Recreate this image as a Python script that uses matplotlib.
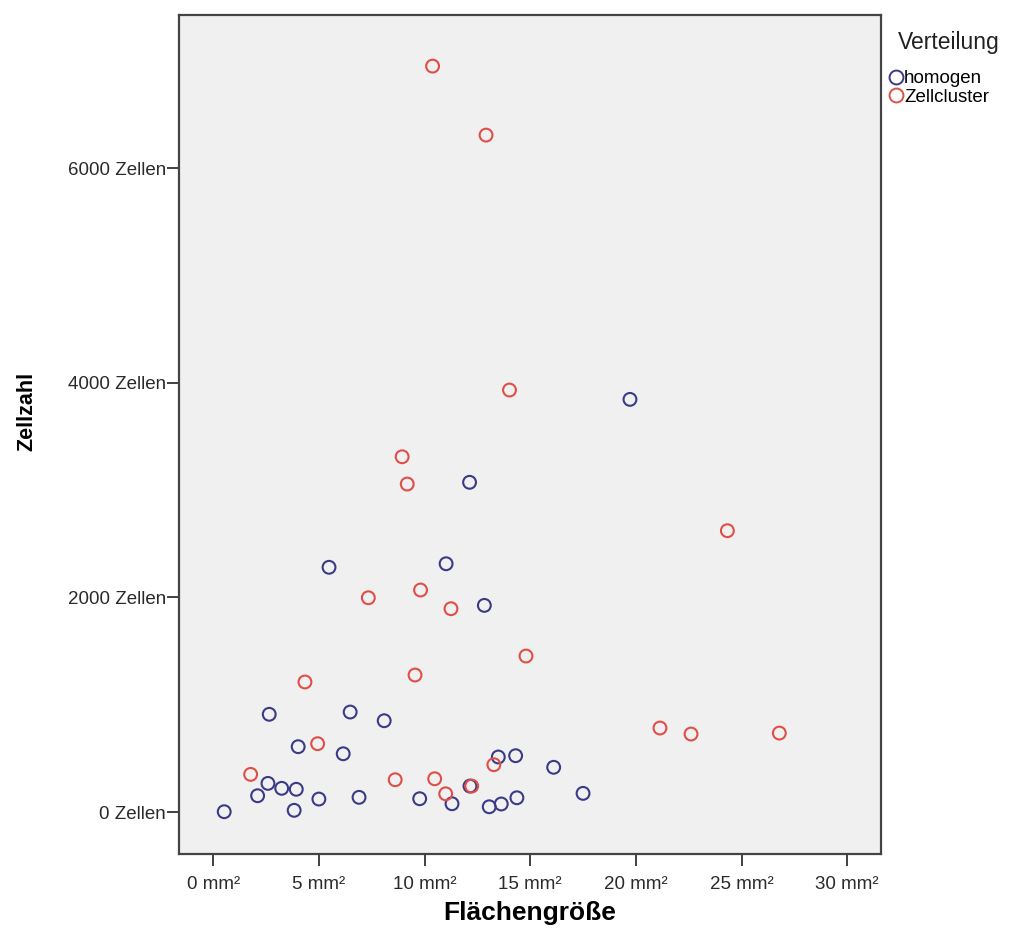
"""
plot.py — Scatter plot of cell count vs. area, split by distribution type.

Output: out.png
"""

import matplotlib
matplotlib.use("Agg")
import matplotlib.pyplot as plt
from matplotlib.lines import Line2D


# ------------------------------------------------------------------
# Data
# ------------------------------------------------------------------

GROUPS = ["homogen", "Zellcluster"]

homogen_area = [0.52, 2.10, 2.59, 3.24, 3.93, 3.83, 4.02, 2.65, 5.00, 6.15,
                6.48, 6.90, 8.09, 9.77, 11.30, 12.15, 13.06, 13.63, 14.37, 13.49,
                14.31, 16.11, 17.50, 19.72, 12.13, 5.48, 11.02, 12.83]
homogen_cells = [3, 152, 267, 221, 212, 16, 609, 911, 121, 543,
                 932, 137, 851, 124, 77, 242, 49, 75, 133, 513,
                 525, 417, 174, 3846, 3073, 2281, 2314, 1926]

cluster_area = [10.38, 12.91, 14.02, 8.94, 9.18, 24.33, 9.81, 7.34, 11.25, 14.80,
                9.55, 4.34, 4.94, 1.77, 8.61, 10.48, 11.00, 12.23, 13.28, 21.14,
                22.61, 26.79]
cluster_cells = [6952, 6309, 3933, 3311, 3057, 2622, 2069, 1997, 1895, 1454,
                 1277, 1212, 637, 351, 301, 310, 170, 242, 441, 783,
                 727, 736]

x_ticks = [0, 5, 10, 15, 20, 25, 30]
y_ticks = [0, 2000, 4000, 6000]

COLORS = {"homogen": "#3a3a86", "Zellcluster": "#e04e48"}
FONT = "Liberation Sans"


# ------------------------------------------------------------------
# Plot
# ------------------------------------------------------------------

def main() -> None:
    fig = plt.figure(figsize=(10.13, 9.40), dpi=100)
    ax = fig.add_axes([0.1767, 0.0915, 0.693, 0.8925])
    ax.set_facecolor("#f0f0f0")

    series = {
        "homogen":     (homogen_area, homogen_cells),
        "Zellcluster": (cluster_area, cluster_cells),
    }
    for name in GROUPS:
        xs, ys = series[name]
        ax.scatter(xs, ys, s=85, facecolors="none",
                   edgecolors=COLORS[name], linewidths=1.5, zorder=3)

    ax.set_xlim(-1.62, 31.6)
    ax.set_ylim(-391, 7428)

    ax.set_xticks(x_ticks)
    ax.set_xticklabels([f"{v} mm²" for v in x_ticks])
    ax.set_yticks(y_ticks)
    ax.set_yticklabels([f"{v} Zellen" for v in y_ticks])
    ax.tick_params(direction="out", length=8.5, width=1.3, color="#333333",
                   labelsize=13.5, labelcolor="#2a2a2a")
    ax.tick_params(axis="x", pad=7)
    ax.tick_params(axis="y", pad=1)
    for lab in ax.get_xticklabels() + ax.get_yticklabels():
        lab.set_family(FONT)

    for side in ax.spines.values():
        side.set_color("#444444")
        side.set_linewidth(1.6)

    # axis titles
    ax.set_xlabel("Flächengröße", family=FONT, fontsize=19, fontweight="bold")
    ax.xaxis.set_label_coords(0.5, -0.0703)
    ax.xaxis.label.set_verticalalignment("center")
    ax.set_ylabel("Zellzahl", family=FONT, fontsize=15.5, fontweight="bold")
    ax.yaxis.set_label_coords(-0.2165, 0.527)
    ax.yaxis.label.set_verticalalignment("center")

    # legend outside on the right
    fig.text(949 / 1013, 1 - 42 / 940, "Verteilung", family=FONT,
             fontsize=16.5, ha="center", va="center", color="#222222")
    handles = [
        Line2D([], [], linestyle="none", marker="o", markersize=10,
               markerfacecolor="none", markeredgecolor=COLORS[g],
               markeredgewidth=1.4)
        for g in GROUPS
    ]
    fig.legend(handles, GROUPS, loc="upper left",
               bbox_to_anchor=(890 / 1013, 1 - 70 / 940), frameon=False,
               handlelength=0.6, handletextpad=0.15, labelspacing=0.08,
               borderpad=0.0, borderaxespad=0.0,
               prop={"family": FONT, "size": 13.5})

    fig.savefig("out.png", dpi=100)
    plt.close(fig)


if __name__ == "__main__":
    main()
